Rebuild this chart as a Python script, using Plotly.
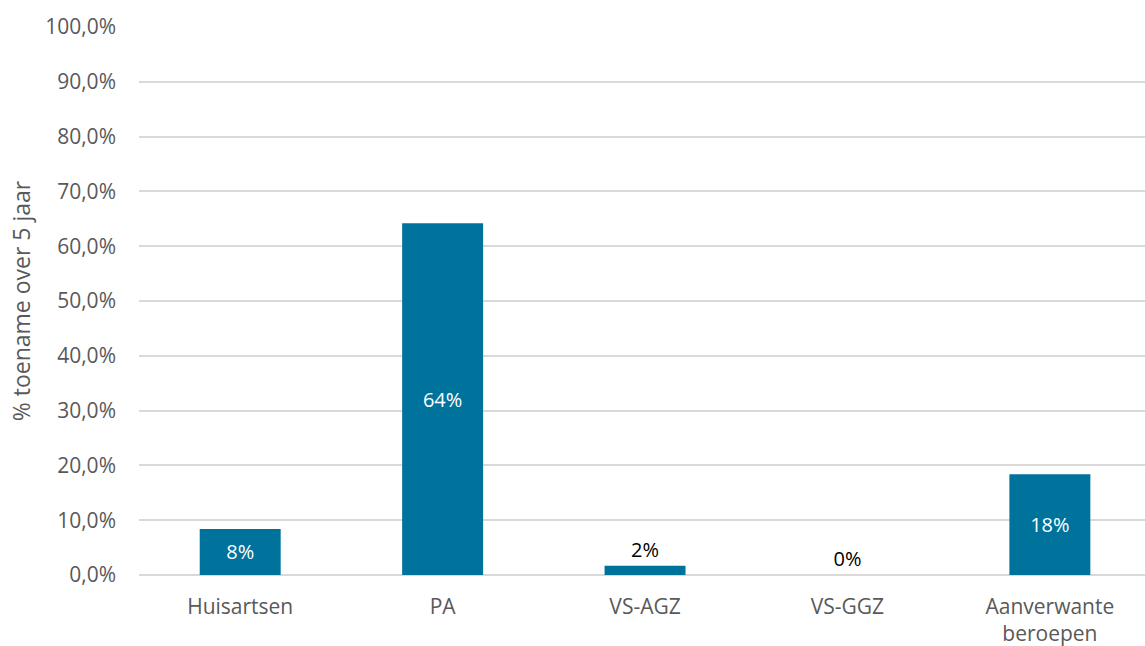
import plotly.graph_objects as go

categories = ["Huisartsen", "PA", "VS-AGZ", "VS-GGZ", "Aanverwante<br>beroepen"]
growth = [0.084, 0.642, 0.017, 0.0, 0.184]
label_colors = ["white", "white", "black", "black", "white"]
label_positions = ["inside", "inside", "outside", "outside", "inside"]

bar_color = "#00739d"
grid_color = "#d9d9d9"
tick_color = "#595959"
font_family = "Open Sans, Noto Sans, sans-serif"

fig = go.Figure(
    go.Bar(
        x=categories,
        y=growth,
        marker=dict(color=bar_color, line=dict(width=0)),
        texttemplate="%{y:.0%}",
        textposition=label_positions,
        insidetextanchor="middle",
        textfont=dict(color=label_colors, size=20, family=font_family),
        cliponaxis=False,
    )
)

fig.update_layout(
    width=1145,
    height=646,
    margin=dict(l=139, r=0, t=27, b=71),
    paper_bgcolor="white",
    plot_bgcolor="white",
    separators=",.",
    bargap=0.6,
    showlegend=False,
    font=dict(family=font_family, color=tick_color, size=20),
    uniformtext=dict(mode=False),
)

# the last category slot runs slightly past the right edge of the page
fig.update_xaxes(
    range=[-0.5, 4.47],
    showgrid=False,
    showline=False,
    ticks="",
    ticklabelstandoff=17,
    tickfont=dict(size=21, color=tick_color),
    automargin=False,
)

fig.update_yaxes(
    range=[0, 1],
    dtick=0.1,
    tickformat=".1%",
    showgrid=True,
    gridcolor=grid_color,
    gridwidth=2,
    zeroline=True,
    zerolinecolor=grid_color,
    zerolinewidth=2,
    showline=False,
    ticks="",
    ticklabelstandoff=22,
    tickfont=dict(size=21, color=tick_color),
    automargin=False,
    title=dict(text="% toename over 5 jaar", font=dict(size=23, color=tick_color), standoff=8),
)

fig.write_html("out.html")
